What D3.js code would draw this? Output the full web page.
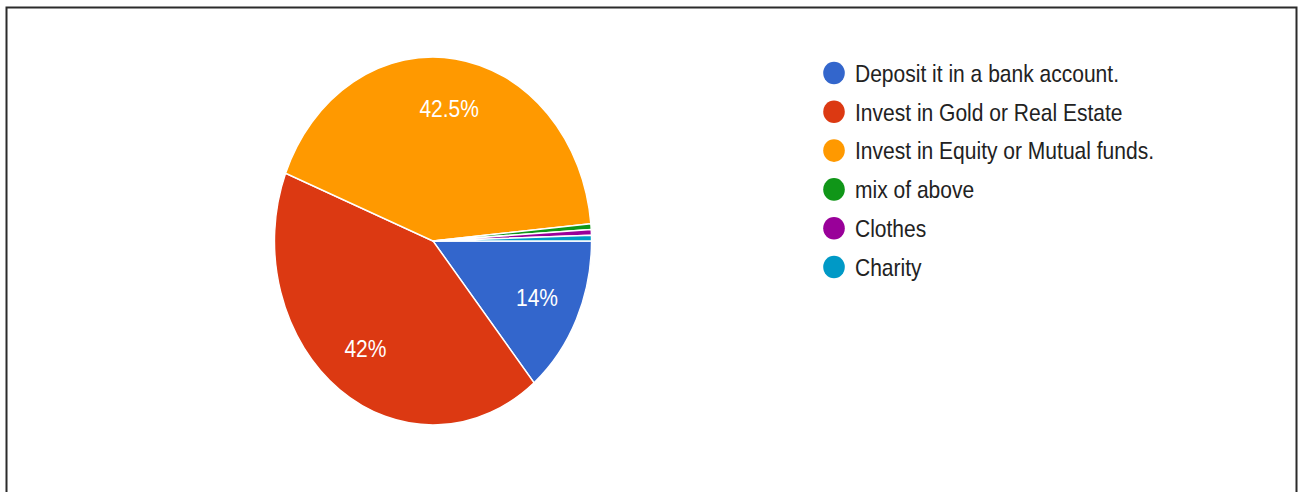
<!DOCTYPE html>
<html>
<head>
<meta charset="utf-8">
<script src="https://cdn.jsdelivr.net/npm/d3@7"></script>
<style>
  html, body { margin: 0; padding: 0; background: #fff; }
  svg { display: block; }
  text { font-family: "Liberation Sans", Arial, sans-serif; }
</style>
</head>
<body>
<svg id="chart" width="1303" height="492"></svg>
<script>
// Survey answers: how respondents would use the money
const categories = [
  "Deposit it in a bank account.",
  "Invest in Gold or Real Estate",
  "Invest in Equity or Mutual funds.",
  "mix of above",
  "Clothes",
  "Charity"
];
const responses = [28, 84, 85, 1, 1, 1];
const percentLabels = ["14%", "42%", "42.5%", "", "", ""];
const colors = ["#3366cc", "#dc3912", "#ff9900", "#109618", "#990099", "#0099c6"];

const W = 1303, H = 492;
const svg = d3.select("#chart");

// Frame around the card (open at the bottom)
svg.append("path")
  .attr("d", `M6.5,${H} L6.5,7.5 L1296.5,7.5 L1296.5,${H}`)
  .attr("fill", "none")
  .attr("stroke", "#2b2b2b")
  .attr("stroke-width", 2);

// Pie geometry: drawn as a circle, squeezed horizontally into an ellipse
const cx = 433, cy = 241, ry = 184, rx = 158.5;
const sx = rx / ry;

const data = categories.map((c, i) => ({ name: c, value: responses[i], label: percentLabels[i], color: colors[i] }));

const pie = d3.pie()
  .value(d => d.value)
  .sort(null)
  .startAngle(Math.PI / 2)
  .endAngle(Math.PI / 2 + 2 * Math.PI);

const arc = d3.arc().innerRadius(0).outerRadius(ry);
const labelArc = d3.arc().innerRadius(ry * 0.725).outerRadius(ry * 0.725);

const gPie = svg.append("g")
  .attr("transform", `translate(${cx},${cy}) scale(${sx},1)`);

const arcs = pie(data);

gPie.selectAll("path.slice")
  .data(arcs)
  .join("path")
  .attr("class", "slice")
  .attr("d", arc)
  .attr("fill", d => d.data.color)
  .attr("stroke", "#fff")
  .attr("stroke-width", 1.6)
  .attr("stroke-linejoin", "round");

gPie.selectAll("text.pct")
  .data(arcs.filter(d => d.data.label))
  .join("text")
  .attr("class", "pct")
  .attr("transform", d => `translate(${labelArc.centroid(d)})`)
  .attr("text-anchor", "middle")
  .attr("dy", "0.34em")
  .attr("font-size", 24.4)
  .attr("fill", "#fff")
  .text(d => d.data.label);

// Legend
const legendX = 834, legendY = 73, rowH = 38.8;
const y = d3.scaleLinear().domain([0, 1]).range([legendY, legendY + rowH]);

const legend = svg.append("g");
const rows = legend.selectAll("g.row")
  .data(data)
  .join("g")
  .attr("class", "row")
  .attr("transform", (d, i) => `translate(${legendX},${y(i)})`);

rows.append("ellipse")
  .attr("rx", 10.8)
  .attr("ry", 11.3)
  .attr("fill", d => d.color);

rows.append("text")
  .attr("transform", `translate(21,8.8) scale(${sx},1)`)
  .attr("font-size", 24.4)
  .attr("fill", "#222")
  .text(d => d.name);
</script>
</body>
</html>
